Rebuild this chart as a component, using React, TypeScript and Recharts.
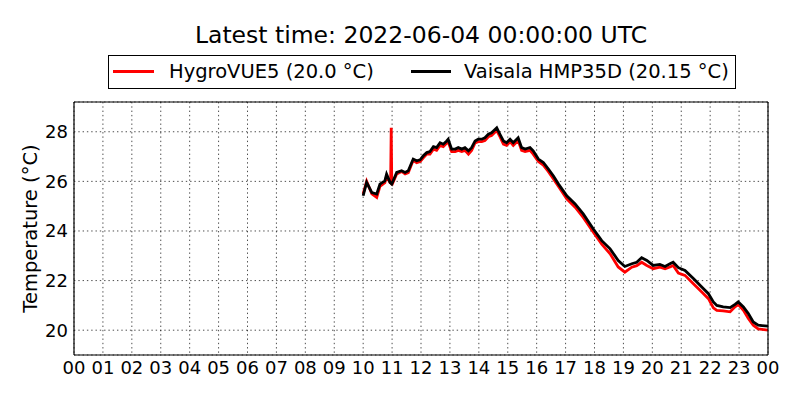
import React from 'react';
import { LineChart, Line, XAxis, YAxis, CartesianGrid, Legend, Label } from 'recharts';

const FONT = '"DejaVu Sans", sans-serif';

const titleText = 'Latest time: 2022-06-04 00:00:00 UTC';
const yLabelText = 'Temperature (°C)';
const hygroName = 'HygroVUE5 (20.0 °C)';
const vaisalaName = 'Vaisala HMP35D (20.15 °C)';
const hygroColor = '#ff0000';
const vaisalaColor = '#000000';

const hourTicks = [0, 1, 2, 3, 4, 5, 6, 7, 8, 9, 10, 11, 12, 13, 14, 15, 16, 17, 18, 19, 20, 21, 22, 23, 24];
const tempTicks = [20, 22, 24, 26, 28];
const tempDomain = [19, 29.2];
const hourDomain = [0, 24];

const vaisalaHours = [
  10.0, 10.12, 10.3, 10.47, 10.58, 10.75, 10.81, 10.93, 10.99, 11.16,
  11.33, 11.45, 11.56, 11.73, 11.85, 11.97, 12.08, 12.2, 12.31, 12.43,
  12.54, 12.66, 12.77, 12.89, 12.94, 13.06, 13.18, 13.29, 13.41, 13.52,
  13.64, 13.75, 13.87, 13.98, 14.1, 14.21, 14.33, 14.44, 14.62, 14.73,
  14.85, 14.96, 15.08, 15.19, 15.36, 15.48, 15.6, 15.77, 15.88, 16.06,
  16.23, 16.4, 16.58, 16.75, 17.04, 17.33, 17.61, 17.96, 18.25, 18.54,
  18.82, 19.05, 19.29, 19.46, 19.63, 19.81, 20.03, 20.26, 20.44, 20.61,
  20.72, 20.9, 21.13, 21.42, 21.71, 21.94, 22.11, 22.23, 22.45, 22.69,
  22.86, 22.97, 23.15, 23.32, 23.49, 23.66, 24.0,
];
const vaisalaTemps = [
  25.42, 25.96, 25.55, 25.49, 25.89, 26.02, 26.29, 25.96, 25.89, 26.36,
  26.43, 26.36, 26.43, 26.9, 26.83, 26.87, 27.03, 27.16, 27.2, 27.4,
  27.36, 27.56, 27.5, 27.63, 27.7, 27.3, 27.3, 27.36, 27.3, 27.36,
  27.23, 27.36, 27.63, 27.7, 27.7, 27.76, 27.9, 27.96, 28.16, 27.9,
  27.63, 27.56, 27.7, 27.56, 27.76, 27.36, 27.3, 27.36, 27.23, 26.9,
  26.76, 26.5, 26.22, 25.9, 25.42, 25.09, 24.69, 24.08, 23.61, 23.28,
  22.81, 22.57, 22.68, 22.74, 22.92, 22.81, 22.61, 22.65, 22.57, 22.68,
  22.74, 22.52, 22.41, 22.08, 21.74, 21.47, 21.14, 21.0, 20.94, 20.91,
  21.04, 21.14, 20.94, 20.67, 20.33, 20.2, 20.16,
];

const hygroHours = [
  10.0, 10.12, 10.3, 10.47, 10.58, 10.75, 10.81, 10.93, 10.95, 10.97,
  10.99, 11.16, 11.33, 11.45, 11.56, 11.73, 11.85, 11.97, 12.08, 12.2,
  12.31, 12.43, 12.54, 12.66, 12.77, 12.89, 12.94, 13.06, 13.18, 13.29,
  13.41, 13.52, 13.64, 13.75, 13.87, 13.98, 14.1, 14.21, 14.33, 14.44,
  14.62, 14.73, 14.85, 14.96, 15.08, 15.19, 15.36, 15.48, 15.6, 15.77,
  15.88, 16.06, 16.23, 16.4, 16.58, 16.75, 17.04, 17.33, 17.61, 17.96,
  18.25, 18.54, 18.82, 19.05, 19.29, 19.46, 19.63, 19.81, 20.03, 20.26,
  20.44, 20.61, 20.72, 20.9, 21.13, 21.42, 21.71, 21.94, 22.11, 22.23,
  22.45, 22.69, 22.86, 22.97, 23.15, 23.32, 23.49, 23.66, 24.0,
];
const hygroTemps = [
  25.5, 26.0, 25.5, 25.35, 25.8, 25.95, 26.2, 25.95, 25.95, 28.16,
  25.85, 26.3, 26.4, 26.3, 26.35, 26.85, 26.75, 26.8, 26.95, 27.1,
  27.1, 27.3, 27.25, 27.45, 27.4, 27.55, 27.6, 27.2, 27.2, 27.25,
  27.2, 27.25, 27.1, 27.25, 27.55, 27.6, 27.6, 27.65, 27.8, 27.85,
  28.05, 27.8, 27.5, 27.45, 27.6, 27.45, 27.65, 27.25, 27.2, 27.25,
  27.1, 26.8, 26.65, 26.4, 26.1, 25.8, 25.3, 24.96, 24.55, 23.95,
  23.47, 23.08, 22.55, 22.34, 22.54, 22.6, 22.74, 22.61, 22.48, 22.54,
  22.48, 22.55, 22.61, 22.3, 22.21, 21.87, 21.54, 21.27, 20.9, 20.8,
  20.78, 20.74, 20.94, 21.04, 20.8, 20.47, 20.2, 20.05, 20.0,
];

const vaisalaData = vaisalaHours.map((h, i) => ({ h, t: vaisalaTemps[i] }));
const hygroData = hygroHours.map((h, i) => ({ h, t: hygroTemps[i] }));

const fmtHour = (v: number) => String(v % 24).padStart(2, '0');

const tickStyle = { fill: '#000', fontSize: 18, fontFamily: FONT };

const renderYLabel = (props: any) => {
  const vb = props.viewBox || { x: 73, y: 102, width: 1, height: 253 };
  const cx = vb.x + vb.width - 37;
  const cy = vb.y + vb.height / 2;
  return (
    <text
      x={cx}
      y={cy}
      transform={`rotate(-90 ${cx} ${cy})`}
      textAnchor="middle"
      fontSize={19.5}
      fontFamily={FONT}
      fill="#000"
    >
      {yLabelText}
    </text>
  );
};

const renderLegend = () => (
  <div
    style={{
      position: 'relative',
      width: 628,
      height: 34,
      boxSizing: 'border-box',
      border: '1px solid #000',
      background: '#fff',
      fontFamily: FONT,
      fontSize: 19.5,
      lineHeight: '32px',
      color: '#000',
      whiteSpace: 'nowrap',
    }}
  >
    <span style={{ position: 'absolute', left: 4, top: 14, width: 41, height: 3, background: hygroColor }} />
    <span style={{ position: 'absolute', left: 60, top: 0 }}>{hygroName}</span>
    <span style={{ position: 'absolute', left: 302, top: 14, width: 40, height: 3, background: vaisalaColor }} />
    <span style={{ position: 'absolute', left: 355, top: 0 }}>{vaisalaName}</span>
  </div>
);

export default function App() {
  return (
    <div style={{ position: 'absolute', left: 0, top: 0, width: 800, height: 400, background: '#fff' }}>
      <div
        style={{
          position: 'absolute',
          left: 74,
          top: 24,
          width: 694,
          textAlign: 'center',
          fontFamily: FONT,
          fontSize: 23.5,
          lineHeight: '23px',
          color: '#000',
          whiteSpace: 'nowrap',
        }}
      >
        {titleText}
      </div>
      <LineChart width={800} height={400} margin={{ top: 102, right: 32, bottom: 44, left: 73 }}>
        <CartesianGrid
          xAxisId="x"
          yAxisId="y"
          stroke="#000"
          strokeWidth={0.7}
          strokeDasharray="1.4 2.9"
        />
        <XAxis
          xAxisId="x"
          type="number"
          dataKey="h"
          domain={hourDomain}
          ticks={hourTicks}
          interval={0}
          tickFormatter={fmtHour}
          height={1}
          tickSize={0}
          tickMargin={6}
          tickLine={false}
          axisLine={{ stroke: '#000', strokeWidth: 1.2 }}
          tick={tickStyle}
          allowDataOverflow
        />
        <XAxis
          xAxisId="xb"
          type="number"
          domain={hourDomain}
          ticks={hourTicks}
          interval={0}
          height={1}
          mirror
          tick={false}
          tickSize={4}
          tickLine={{ stroke: '#000' }}
          axisLine={false}
          allowDataOverflow
        />
        <XAxis
          xAxisId="xt"
          orientation="top"
          type="number"
          domain={hourDomain}
          ticks={hourTicks}
          interval={0}
          height={1}
          mirror
          tick={false}
          tickSize={4}
          tickLine={{ stroke: '#000' }}
          axisLine={{ stroke: '#000', strokeWidth: 1.2 }}
          allowDataOverflow
        />
        <YAxis
          yAxisId="y"
          type="number"
          domain={tempDomain}
          ticks={tempTicks}
          width={1}
          tickSize={0}
          tickMargin={6}
          tickLine={false}
          axisLine={{ stroke: '#000', strokeWidth: 1.2 }}
          tick={tickStyle}
          allowDataOverflow
        >
          <Label content={renderYLabel} />
        </YAxis>
        <YAxis
          yAxisId="yl"
          type="number"
          domain={tempDomain}
          ticks={tempTicks}
          width={1}
          mirror
          tick={false}
          tickSize={4}
          tickLine={{ stroke: '#000' }}
          axisLine={false}
          allowDataOverflow
        />
        <YAxis
          yAxisId="yr"
          orientation="right"
          type="number"
          domain={tempDomain}
          ticks={tempTicks}
          width={1}
          mirror
          tick={false}
          tickSize={4}
          tickLine={{ stroke: '#000' }}
          axisLine={{ stroke: '#000', strokeWidth: 1.2 }}
          allowDataOverflow
        />
        <Legend
          verticalAlign="middle"
          align="center"
          layout="horizontal"
          content={renderLegend}
          wrapperStyle={{ left: 108, top: 55, width: 628, height: 34 }}
        />
        <Line
          xAxisId="x"
          yAxisId="y"
          data={hygroData}
          dataKey="t"
          name={hygroName}
          type="linear"
          stroke={hygroColor}
          strokeWidth={2.8}
          dot={false}
          isAnimationActive={false}
        />
        <Line
          xAxisId="x"
          yAxisId="y"
          data={vaisalaData}
          dataKey="t"
          name={vaisalaName}
          type="linear"
          stroke={vaisalaColor}
          strokeWidth={2.8}
          dot={false}
          isAnimationActive={false}
        />
      </LineChart>
    </div>
  );
}
